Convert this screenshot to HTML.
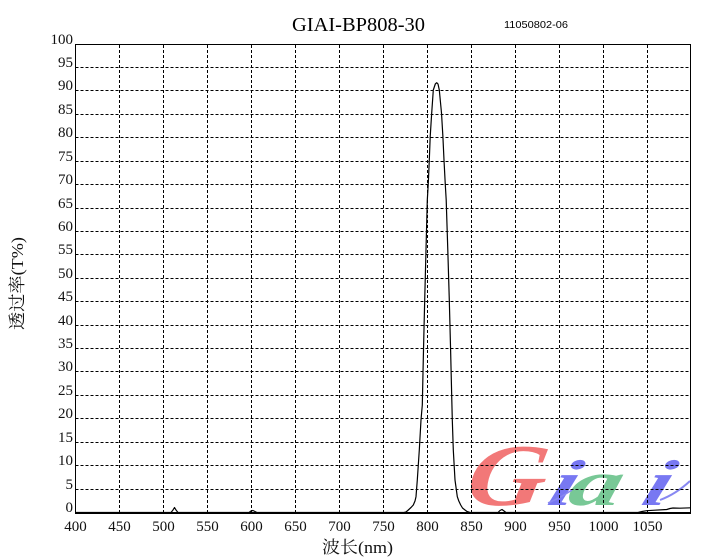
<!DOCTYPE html>
<html>
<head>
<meta charset="utf-8">
<style>
html,body{margin:0;padding:0;background:#fff;}
svg{display:block;}
</style>
</head>
<body>
<svg width="721" height="558" viewBox="0 0 721 558" xmlns="http://www.w3.org/2000/svg">
<rect width="721" height="558" fill="#fff"/>

<!-- watermark -->
<g font-family="Liberation Serif, serif" font-style="italic" text-anchor="middle">
  <text transform="translate(503,505) skewX(-10) scale(1.3,1.05)" font-size="84" font-weight="bold" fill="#f27878">G</text>
  <text transform="translate(558,505) skewX(-20) scale(1.5,1.05)" font-size="62" font-weight="bold" fill="#7878f2">i</text>
  <text transform="translate(592,505) skewX(-14) scale(1.7,1.05)" font-size="62" font-weight="bold" fill="#78c896">a</text>
  <text transform="translate(652,505) skewX(-20) scale(1.5,1.05)" font-size="62" font-weight="bold" fill="#7878f2">i</text>
</g>
<path d="M660 500 Q676 494 690 481" stroke="#8888f2" stroke-width="2" fill="none"/>
<path d="M548 503 Q560 498 572 490" stroke="#8888f2" stroke-width="1.5" fill="none"/>

<!-- grid -->
<g stroke="#000" stroke-width="1" stroke-dasharray="3,2" fill="none">
  <path d="M75.5 67.5H691 M75.5 90.5H691 M75.5 114.5H691 M75.5 137.5H691 M75.5 161.5H691 M75.5 184.5H691 M75.5 208.5H691 M75.5 231.5H691 M75.5 254.5H691 M75.5 278.5H691 M75.5 301.5H691 M75.5 325.5H691 M75.5 348.5H691 M75.5 371.5H691 M75.5 395.5H691 M75.5 418.5H691 M75.5 442.5H691 M75.5 465.5H691 M75.5 489.5H691"/>
  <path d="M119.5 45V512 M163.5 45V512 M207.5 45V512 M251.5 45V512 M295.5 45V512 M339.5 45V512 M383.5 45V512 M427.5 45V512 M471.5 45V512 M515.5 45V512 M559.5 45V512 M603.5 45V512 M647.5 45V512"/>
</g>

<!-- frame -->
<g stroke="#000" fill="none">
  <path d="M75.5 513V44.5H690.5V513" stroke-width="1"/>
  <path d="M75 513H691" stroke-width="2"/>
</g>

<!-- curve -->
<polyline fill="none" stroke="#000" stroke-width="1.2" stroke-linejoin="round" points="
76,512.5 171,512.5 173,510 174.5,507.5 176,510 178,512.5
249,512.5 251,511 253,510.5 255,511.5 257,512.5
340,512.5 404,512.5 406,512 408.3,510 411,507.5 413.3,505 415,501 416,496.7 417.3,480 419.3,450 421,420 422.3,405 423.5,350 424.7,300 426,250 427.3,200 428.3,183 429.3,160 430.2,136.7 431.7,113 433.3,90 435.3,84 436.7,82.7 438,84 439.3,90 441.5,113 442.9,136.7 444,160 445.2,183 446.2,200 447.8,250 449.3,300 450.6,350 451.8,400 452.3,420 453.3,450 455,480 457.3,496.7 458.8,501 460.7,505 462.5,508 465,510 467,511.5 470,512.5
498,512.5 500,510.5 502,509.5 504,511 506,512.5
638,512.5 642,511.5 646.7,510.7 655,510.2 666.7,509.5 670,508.5 673,508 680,508.2 691,507.8"/>

<!-- title -->
<text x="292" y="31" font-family="Liberation Serif, serif" font-size="20" fill="#000" textLength="133" lengthAdjust="spacingAndGlyphs">GIAI-BP808-30</text>
<text x="504" y="28" font-family="Liberation Sans, sans-serif" font-size="10.5" fill="#000" textLength="64" lengthAdjust="spacingAndGlyphs">11050802-06</text>

<!-- y tick labels -->
<g font-family="Liberation Serif, serif" font-size="15" fill="#111" text-anchor="end">
  <text x="73" y="44">100</text>
  <text x="73" y="67">95</text>
  <text x="73" y="90">90</text>
  <text x="73" y="114">85</text>
  <text x="73" y="137">80</text>
  <text x="73" y="161">75</text>
  <text x="73" y="184">70</text>
  <text x="73" y="208">65</text>
  <text x="73" y="231">60</text>
  <text x="73" y="254">55</text>
  <text x="73" y="278">50</text>
  <text x="73" y="301">45</text>
  <text x="73" y="325">40</text>
  <text x="73" y="348">35</text>
  <text x="73" y="371">30</text>
  <text x="73" y="395">25</text>
  <text x="73" y="418">20</text>
  <text x="73" y="442">15</text>
  <text x="73" y="465">10</text>
  <text x="73" y="489">5</text>
  <text x="73" y="512">0</text>
</g>

<!-- x tick labels -->
<g font-family="Liberation Serif, serif" font-size="15" fill="#111" text-anchor="middle">
  <text x="75.5" y="531">400</text>
  <text x="119.5" y="531">450</text>
  <text x="163.5" y="531">500</text>
  <text x="207.5" y="531">550</text>
  <text x="251.5" y="531">600</text>
  <text x="295.5" y="531">650</text>
  <text x="339.5" y="531">700</text>
  <text x="383.5" y="531">750</text>
  <text x="427.5" y="531">800</text>
  <text x="471.5" y="531">850</text>
  <text x="515.5" y="531">900</text>
  <text x="559.5" y="531">950</text>
  <text x="603.5" y="531">1000</text>
  <text x="647.5" y="531">1050</text>
</g>

<!-- axis titles -->
<text x="322" y="553" font-family="Liberation Serif, 'Noto Serif CJK SC', 'Noto Sans CJK SC', serif" font-size="17" fill="#111" textLength="71" lengthAdjust="spacingAndGlyphs">波长(nm)</text>
<text transform="translate(23,330) rotate(-90)" font-family="Liberation Serif, 'Noto Serif CJK SC', 'Noto Sans CJK SC', serif" font-size="17" fill="#111" textLength="93" lengthAdjust="spacingAndGlyphs">透过率(T%)</text>
</svg>
</body>
</html>
